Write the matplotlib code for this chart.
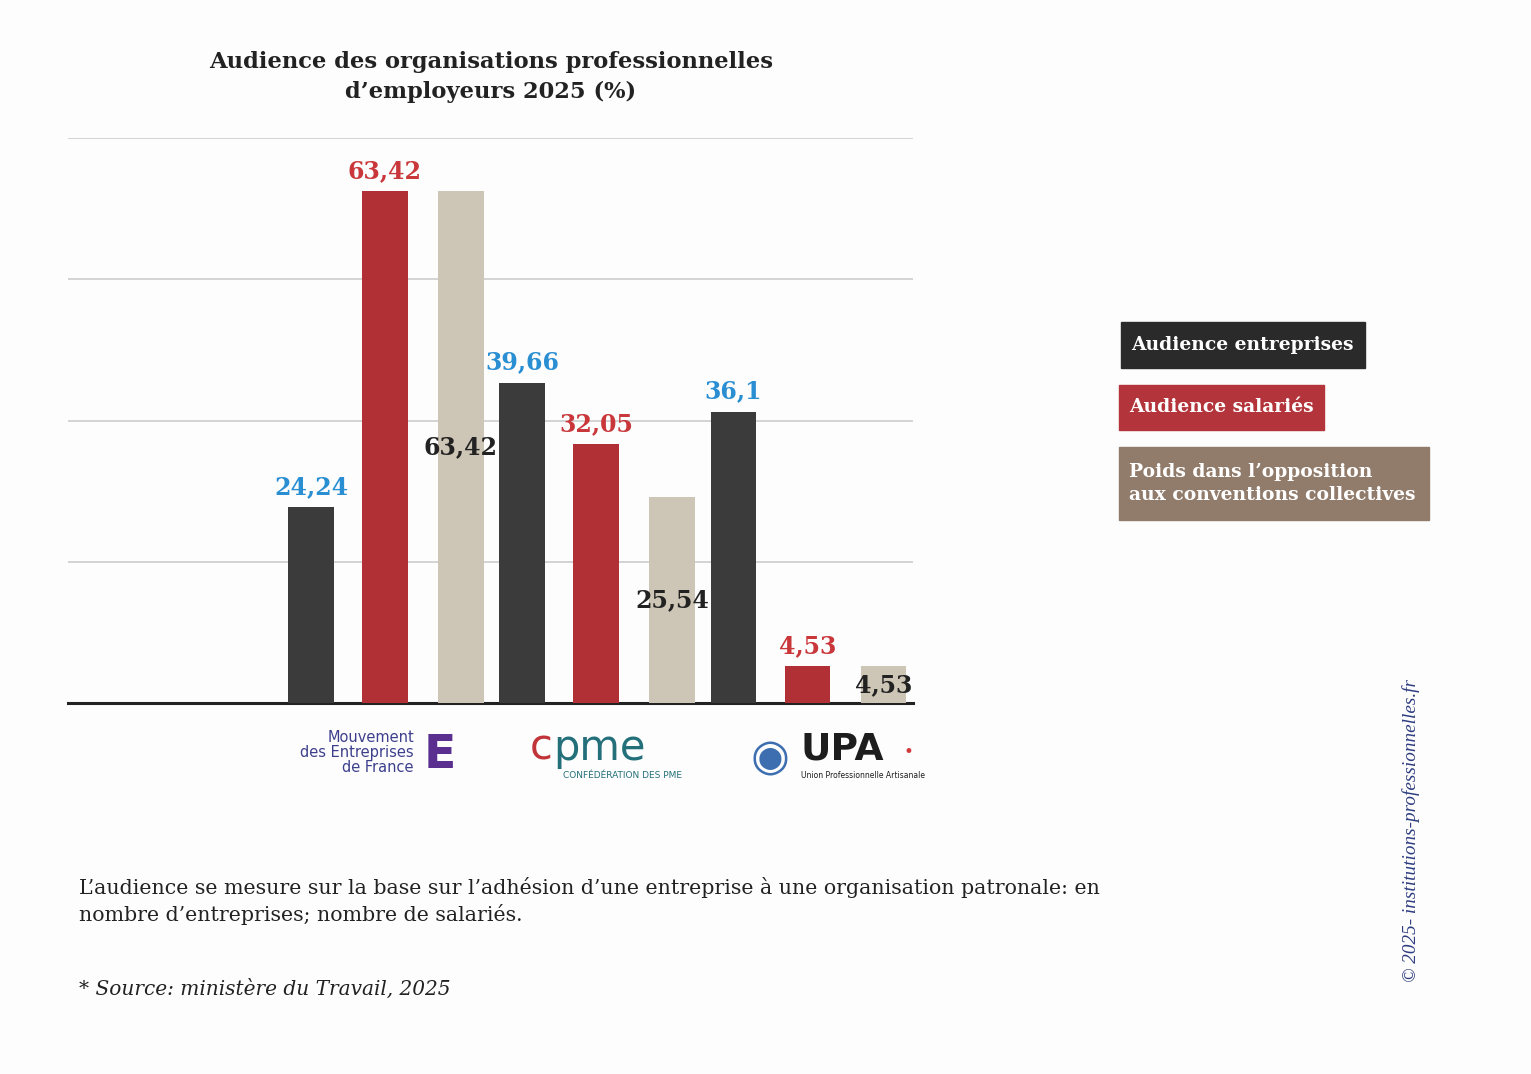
import matplotlib.pyplot as plt
from matplotlib.patches import Rectangle
import numpy as np

# Data
organisations = ["MEDEF", "CPME", "U2P"]
audience_entreprises = [24.24, 39.66, 36.1]
audience_salaries = [63.42, 32.05, 4.53]
poids_opposition = [63.42, 25.54, 4.53]
series_names = ["Audience entreprises", "Audience salariés",
                "Poids dans l\u2019opposition\naux conventions collectives"]

def fmt(v):
    return f"{v:g}".replace(".", ",")

W, H = 1531, 1074
fig = plt.figure(figsize=(W / 100, H / 100), dpi=100)
fig.patch.set_facecolor("#fdfdfd")

def fx(px):
    return px / W

def fy(py):
    return 1 - py / H

serif = "DejaVu Serif"
c_dark, c_red, c_beige = "#3b3b3b", "#b03036", "#cdc5b5"
c_blue_lbl, c_red_lbl = "#2a8ed2", "#c9373b"

ax = fig.add_axes([fx(68), fy(703), fx(913) - fx(68), fy(138) - fy(703)])
ax.set_facecolor("none")
x = np.arange(len(organisations))
offsets = [-0.35, 0.0, 0.36]
w = 0.215

ax.bar(x + offsets[0], audience_entreprises, w, color=c_dark, zorder=3)
ax.bar(x + offsets[1], audience_salaries, w, color=c_red, zorder=3)
ax.bar(x + offsets[2], poids_opposition, w, color=c_beige, zorder=3)

ax.set_xlim(-1.5, 2.5)
ax.set_ylim(0, 70)
ax.set_yticks([17.5, 35, 52.5, 70])
ax.yaxis.grid(True, color="#cccccc", linewidth=1.2, zorder=0)
ax.set_xticks([])
ax.tick_params(left=False, labelleft=False)
for s in ["top", "right", "left"]:
    ax.spines[s].set_visible(False)
ax.spines["bottom"].set_linewidth(2.2)
ax.spines["bottom"].set_color("#222222")

for i in range(len(organisations)):
    ax.annotate(fmt(audience_entreprises[i]), (x[i] + offsets[0], audience_entreprises[i]),
                xytext=(0, 6), textcoords="offset points", ha="center", va="bottom",
                color=c_blue_lbl, fontsize=17, fontweight="bold", family=serif, zorder=5)
    ax.annotate(fmt(audience_salaries[i]), (x[i] + offsets[1], audience_salaries[i]),
                xytext=(0, 6), textcoords="offset points", ha="center", va="bottom",
                color=c_red_lbl, fontsize=17, fontweight="bold", family=serif, zorder=5)
    ax.text(x[i] + offsets[2], poids_opposition[i] / 2, fmt(poids_opposition[i]),
            ha="center", va="center", color="#222222", fontsize=17,
            fontweight="bold", family=serif, zorder=5)

# Title
fig.text(fx(491), fy(77), "Audience des organisations professionnelles\nd\u2019employeurs 2025 (%)",
         ha="center", va="center", fontsize=16.3, fontweight="bold", family=serif,
         color="#222222", linespacing=1.5)

# Legend boxes
legend_boxes = [
    (1121, 322, 1365, 368, "#2a2a2a"),
    (1119, 385, 1324, 430, "#b3343a"),
    (1119, 447, 1429, 520, "#917b6a"),
]
for (x0, y0, x1, y1, col), name in zip(legend_boxes, series_names):
    fig.add_artist(Rectangle((fx(x0), fy(y1)), fx(x1) - fx(x0), fy(y0) - fy(y1),
                             transform=fig.transFigure, color=col))
    fig.text(fx(x0 + 10), (fy(y0) + fy(y1)) / 2, name, ha="left", va="center",
             color="white", fontsize=13.5, fontweight="bold", family=serif,
             linespacing=1.3)

# Logo stand-ins (text)
fig.text(fx(414), fy(752), "Mouvement\ndes Entreprises\nde France", ha="right", va="center",
         fontsize=10.5, color="#3d3f8c", family="DejaVu Sans", linespacing=1.0)
fig.text(fx(440), fy(755), "E", ha="center", va="center", fontsize=34,
         fontweight="bold", color="#5b2f8f", family="DejaVu Sans")
fig.text(fx(530), fy(748), "c", ha="left", va="center", fontsize=30,
         color="#c0343a", family="DejaVu Sans")
fig.text(fx(553), fy(748), "pme", ha="left", va="center", fontsize=30,
         color="#23707a", family="DejaVu Sans")
fig.text(fx(563), fy(776), "CONFÉDÉRATION DES PME", ha="left", va="center",
         fontsize=6.5, color="#23707a", family="DejaVu Sans")
fig.text(fx(770), fy(758), "\u25C9", ha="center", va="center", fontsize=32,
         color="#3d6fb0", family="DejaVu Sans")
fig.text(fx(800), fy(750), "UPA", ha="left", va="center", fontsize=27,
         fontweight="bold", color="#1d1d1d", family="DejaVu Sans")
fig.text(fx(908), fy(752), "\u2022", ha="center", va="center", fontsize=12,
         color="#d23b3b", family="DejaVu Sans")
fig.text(fx(801), fy(776), "Union Professionnelle Artisanale", ha="left", va="center",
         fontsize=5.5, color="#1d1d1d", family="DejaVu Sans")

# Footnotes
fig.text(fx(79), fy(901),
         "L\u2019audience se mesure sur la base sur l\u2019adhésion d\u2019une entreprise à une organisation patronale: en\n"
         "nombre d\u2019entreprises; nombre de salariés.",
         ha="left", va="center", fontsize=14.8, family=serif,
         color="#222222", linespacing=1.4)
fig.text(fx(79), fy(989), "* Source: ministère du Travail, 2025", ha="left", va="center",
         fontsize=14.5, style="italic", family=serif, color="#222222")

# Vertical copyright
fig.text(fx(1411), fy(830), "\u00a9 2025- institutions-professionnelles.fr", rotation=90,
         ha="center", va="center", fontsize=13.8, style="italic",
         family="Liberation Serif", color="#2e3d80")

fig.savefig("out.png", dpi=100, facecolor=fig.get_facecolor())
